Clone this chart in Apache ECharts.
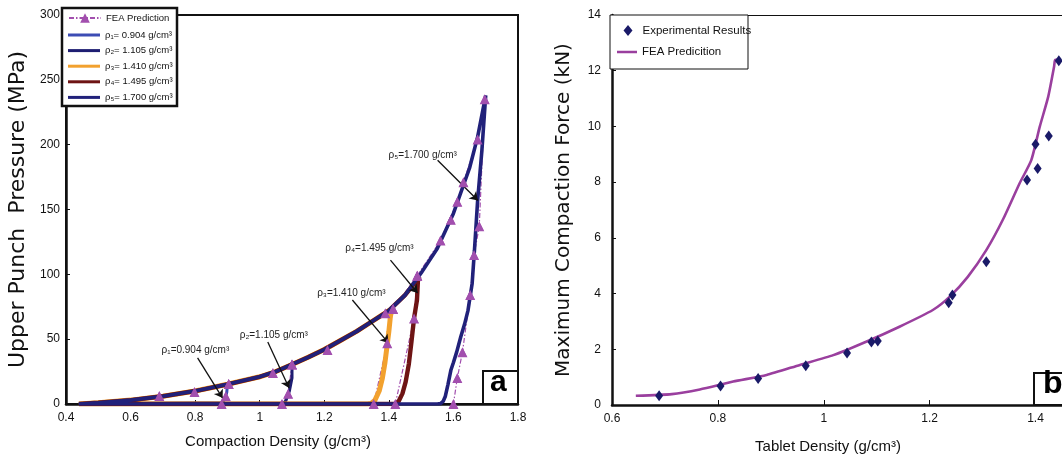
<!DOCTYPE html>
<html>
<head>
<meta charset="utf-8">
<script src="https://cdn.jsdelivr.net/npm/echarts@6/dist/echarts.min.js"></script>
<style>
  html, body { margin: 0; padding: 0; background: #fff; }
  #chart { width: 1062px; height: 461px; }
</style>
</head>
<body>
<div id="chart"></div>
<script>
// ---------- Panel a: upper punch pressure vs compaction density ----------
// Shared loading envelope (g/cm3, MPa)
const loadDensity  = [0.44, 0.5, 0.6, 0.7, 0.8, 0.9, 1.0, 1.05, 1.1, 1.15, 1.2, 1.25, 1.3, 1.35, 1.4, 1.45, 1.5, 1.55, 1.6, 1.65, 1.675, 1.7];
const loadPressure = [0, 1, 3, 6, 10, 15.2, 21, 25, 30.5, 36, 42, 49, 56, 64, 72, 84, 101, 120, 147, 182, 206, 238];

// Unloading branches, [density, pressure], starting at the peak of each case
const unloadRho1 = [[0.904, 15.5], [0.898, 9], [0.892, 4], [0.885, 1], [0.88, 0]];
const unloadRho2 = [[1.105, 31], [1.1, 20], [1.092, 10], [1.082, 3], [1.072, 0]];
const unloadRho3 = [[1.41, 73], [1.405, 68], [1.4, 56], [1.395, 46], [1.388, 32], [1.38, 20], [1.37, 10], [1.357, 3], [1.345, 0.5], [1.335, 0]];
const unloadRho4 = [[1.495, 98], [1.49, 95], [1.487, 80], [1.478, 66], [1.47, 48], [1.462, 31], [1.452, 17], [1.442, 8], [1.43, 2], [1.42, 0]];
const unloadRho5 = [[1.70, 238], [1.688, 195], [1.675, 157], [1.665, 118], [1.658, 93], [1.645, 72], [1.635, 62], [1.623, 52], [1.61, 40], [1.6, 32], [1.592, 26], [1.583, 15], [1.575, 6], [1.568, 2], [1.56, 0.3], [1.55, 0]];

// FEA prediction points (triangles)
const feaLoading = [[0.689, 6.2], [0.798, 9.3], [0.904, 15.4], [1.041, 24], [1.1, 30.5], [1.21, 41.6], [1.389, 70], [1.413, 73.3], [1.488, 99], [1.56, 126], [1.592, 142], [1.612, 156], [1.631, 171], [1.675, 204], [1.697, 235]];
const feaUnload1 = [[0.904, 15.4], [0.895, 6], [0.882, 0]];
const feaUnload2 = [[1.1, 30.5], [1.088, 8], [1.069, 0]];
const feaUnload3 = [[1.413, 73.3], [1.395, 46.8], [1.353, 0]];
const feaUnload4 = [[1.488, 99], [1.478, 66], [1.42, 0]];
const feaUnload5 = [[1.697, 235], [1.68, 137], [1.664, 115], [1.652, 84], [1.628, 40], [1.612, 20], [1.6, 0]];

const caseNames  = ['ρ₁= 0.904 g/cm³', 'ρ₂= 1.105 g/cm³', 'ρ₃= 1.410 g/cm³', 'ρ₄= 1.495 g/cm³', 'ρ₅= 1.700 g/cm³'];
const caseColors = ['#3c4cb4', '#1e1e72', '#f2a12e', '#6e1414', '#21217a'];
const caseWidths = [3, 3, 5, 4.4, 3.6];
const unloads    = [unloadRho1, unloadRho2, unloadRho3, unloadRho4, unloadRho5];

// Annotation texts and arrows (data coordinates)
const noteTexts  = ['ρ₁=0.904 g/cm³', 'ρ₂=1.105 g/cm³', 'ρ₃=1.410 g/cm³', 'ρ₄=1.495 g/cm³', 'ρ₅=1.700 g/cm³'];
const noteAnchor = [[0.696, 41.6], [0.938, 53], [1.178, 85.6], [1.265, 120], [1.399, 192]];
const arrowFrom  = [[0.8076, 35.5], [1.025, 47.8], [1.287, 80.2], [1.405, 111], [1.551, 188]];
const arrowTo    = [[0.885, 4.6], [1.091, 12.3], [1.399, 47], [1.489, 85.6], [1.676, 157]];

// ---------- Panel b: maximum compaction force vs tablet density ----------
const expDensity = [0.689, 0.805, 0.876, 0.966, 1.044, 1.09, 1.102, 1.236, 1.243, 1.307, 1.384, 1.404, 1.4, 1.425, 1.444];
const expForce   = [0.33, 0.68, 0.95, 1.41, 1.87, 2.26, 2.30, 3.67, 3.95, 5.14, 8.08, 8.49, 9.36, 9.66, 12.36];
const feaDensity = [0.645, 0.713, 0.766, 0.829, 0.892, 0.955, 1.018, 1.08, 1.143, 1.206, 1.238, 1.272, 1.307, 1.338, 1.37, 1.392, 1.408, 1.424, 1.435, 1.437, 1.445];
const feaForce   = [0.33, 0.39, 0.56, 0.84, 1.08, 1.44, 1.79, 2.27, 2.81, 3.41, 3.89, 4.6, 5.56, 6.64, 7.96, 8.79, 9.99, 11.07, 12.14, 12.38, 12.4];

const NARROW = "'Liberation Sans Narrow', 'Liberation Sans', Arial, sans-serif";
const WIDE = "'DejaVu Sans', 'Liberation Sans', Arial, sans-serif";
const FEA_COLOR = '#a24fae';

function caseCurve(i) {
  const peak = unloads[i][0][0];
  const pts = [];
  loadDensity.forEach((d, k) => { if (d < peak - 1e-9) pts.push([d, loadPressure[k]]); });
  unloads[i].forEach(p => pts.push(p));
  pts.push([loadDensity[0], 0]);
  return pts;
}

const series = [];
caseNames.forEach((name, i) => {
  series.push({
    name, type: 'line', xAxisIndex: 0, yAxisIndex: 0,
    data: caseCurve(i), showSymbol: false, symbol: 'none', z: 3,
    lineStyle: { color: caseColors[i], width: caseWidths[i] },
    itemStyle: { color: caseColors[i] }
  });
});

// FEA dashed paths (under the solid curves), then triangles on top
const feaPaths = [feaLoading.concat(feaUnload5.slice(1)), feaUnload1, feaUnload2, feaUnload3, feaUnload4];
feaPaths.forEach((path) => {
  series.push({
    name: 'FEA Prediction', type: 'line', xAxisIndex: 0, yAxisIndex: 0,
    data: path, symbol: 'triangle', symbolSize: 9, showSymbol: true, z: 2,
    lineStyle: { color: FEA_COLOR, width: 1.2, type: [5, 2, 1.5, 2] },
    itemStyle: { color: FEA_COLOR }
  });
});
series.push({
  name: 'FEA Prediction', type: 'scatter', xAxisIndex: 0, yAxisIndex: 0,
  data: feaPaths.flat(), symbol: 'triangle', symbolSize: 10, z: 5,
  itemStyle: { color: FEA_COLOR, opacity: 1 }
});

// annotations
series.push({
  type: 'line', xAxisIndex: 0, yAxisIndex: 0, data: [], z: 6, silent: true,
  markLine: {
    silent: true, symbol: ['none', 'arrow'], symbolSize: 8, animation: false,
    lineStyle: { color: '#111', width: 1.3, type: 'solid' },
    label: { show: false },
    data: arrowFrom.map((f, i) => [{ coord: f }, { coord: arrowTo[i] }])
  },
  markPoint: {
    silent: true, symbol: 'circle', symbolSize: 0, animation: false,
    label: { show: true, position: 'right', distance: 0, color: '#222', fontSize: 10, fontFamily: NARROW, formatter: p => p.name },
    data: noteTexts.map((t, i) => ({ name: t, coord: noteAnchor[i] }))
  }
});

// panel b series
series.push({
  name: 'Experimental Results', type: 'scatter', xAxisIndex: 1, yAxisIndex: 1,
  data: expDensity.map((d, i) => [d, expForce[i]]),
  symbol: 'diamond', symbolSize: [8, 11], z: 4,
  itemStyle: { color: '#1a1a68', opacity: 1 }
});
series.push({
  name: 'FEA Predicition', type: 'line', xAxisIndex: 1, yAxisIndex: 1,
  data: feaDensity.map((d, i) => [d, feaForce[i]]),
  showSymbol: false, symbol: 'none', smooth: 0.2, z: 3,
  lineStyle: { color: '#9a3f9e', width: 2.6 },
  itemStyle: { color: '#9a3f9e' }
});

const axisLabelStyle = { color: '#111', fontSize: 12, fontFamily: NARROW };
const legendBase = { orient: 'vertical', selectedMode: false, padding: 0, backgroundColor: 'transparent', z: 8 };

const option = {
  animation: false,
  backgroundColor: '#fff',
  grid: [
    { left: 66, right: 544, top: 15, bottom: 57, show: true, borderColor: '#111', borderWidth: 2, backgroundColor: 'transparent' },
    { left: 612, right: 0, top: 15, bottom: 56, show: false }
  ],
  xAxis: [
    {
      type: 'value', gridIndex: 0, min: 0.4, max: 1.8, interval: 0.2,
      name: 'Compaction Density (g/cm³)', nameLocation: 'middle', nameGap: 30,
      nameTextStyle: { color: '#111', fontSize: 15, fontFamily: NARROW, padding: [0, 28, 0, 0] },
      axisLine: { lineStyle: { color: '#111', width: 2.5 } },
      axisTick: { inside: true, length: 4, lineStyle: { color: '#111' } },
      axisLabel: Object.assign({ margin: 8 }, axisLabelStyle),
      splitLine: { show: false }
    },
    {
      type: 'value', gridIndex: 1, min: 0.6, max: 1.45, interval: 0.2,
      name: 'Tablet Density (g/cm³)', nameLocation: 'middle', nameGap: 34,
      nameTextStyle: { color: '#111', fontSize: 15, fontFamily: NARROW, padding: [0, 18, 0, 0] },
      axisLine: { lineStyle: { color: '#111', width: 2.5 } },
      axisTick: { inside: true, length: 5, lineStyle: { color: '#111' } },
      axisLabel: Object.assign({ margin: 8, showMaxLabel: false }, axisLabelStyle),
      splitLine: { show: false }
    }
  ],
  yAxis: [
    {
      type: 'value', gridIndex: 0, min: 0, max: 300, interval: 50,
      name: 'Upper Punch  Pressure (MPa)', nameLocation: 'middle', nameGap: 37,
      nameTextStyle: { color: '#111', fontSize: 22, fontFamily: WIDE },
      axisLine: { lineStyle: { color: '#111', width: 2.5 } },
      axisTick: { inside: true, length: 4, lineStyle: { color: '#111' } },
      axisLabel: Object.assign({ margin: 6 }, axisLabelStyle),
      splitLine: { show: false }
    },
    {
      type: 'value', gridIndex: 1, min: 0, max: 14, interval: 2,
      name: 'Maximum Compaction Force (kN)', nameLocation: 'middle', nameGap: 38,
      nameTextStyle: { color: '#111', fontSize: 20, fontFamily: WIDE },
      axisLine: { lineStyle: { color: '#111', width: 2.5 } },
      axisTick: { inside: true, length: 4, lineStyle: { color: '#111' } },
      axisLabel: Object.assign({ margin: 11 }, axisLabelStyle),
      splitLine: { show: false }
    }
  ],
  legend: [
    Object.assign({}, legendBase, {
      data: ['FEA Prediction'], left: 68, top: 13,
      itemWidth: 32, itemHeight: 12,
      textStyle: { color: '#111', fontSize: 9.5, fontFamily: NARROW }
    }),
    Object.assign({}, legendBase, {
      data: caseNames.map(n => ({ name: n, icon: 'rect' })), left: 68, top: 29,
      itemWidth: 32, itemHeight: 3, itemGap: 3.6,
      textStyle: { color: '#111', fontSize: 9.5, fontFamily: NARROW, lineHeight: 12 }
    }),
    Object.assign({}, legendBase, {
      data: [{ name: 'Experimental Results', icon: 'diamond' }], left: 623.5, top: 24.5,
      itemWidth: 9, itemHeight: 11,
      textStyle: { color: '#111', fontSize: 11.5, fontFamily: NARROW, padding: [0, 0, 0, 5] }
    }),
    Object.assign({}, legendBase, {
      data: [{ name: 'FEA Predicition', icon: 'rect' }], left: 617, top: 45.5,
      itemWidth: 20, itemHeight: 2.5,
      textStyle: { color: '#111', fontSize: 11.5, fontFamily: NARROW, lineHeight: 13 }
    })
  ],
  graphic: [
    // legend frames (above axes, below legend items)
    { type: 'rect', z: 7, shape: { x: 62, y: 8, width: 115, height: 98 }, style: { fill: '#fff', stroke: '#111', lineWidth: 2.5 } },
    { type: 'rect', z: 7, shape: { x: 610, y: 15, width: 138, height: 54 }, style: { fill: '#fff', stroke: '#111', lineWidth: 1 } },
    // top frame line of panel b
    { type: 'line', z: 1, shape: { x1: 612, y1: 15.5, x2: 1062, y2: 15.5 }, style: { stroke: '#111', lineWidth: 1 } },
    // panel letters
    { type: 'rect', z: 100, shape: { x: 483, y: 371, width: 35, height: 33 }, style: { fill: '#fff', stroke: '#111', lineWidth: 2 } },
    { type: 'text', z: 101, left: 490, top: 368, style: { text: 'a', font: "bold 30px 'Liberation Sans', Arial, sans-serif", fill: '#000' } },
    { type: 'rect', z: 100, shape: { x: 1034, y: 373, width: 40, height: 32 }, style: { fill: '#fff', stroke: '#111', lineWidth: 2 } },
    { type: 'text', z: 101, left: 1043, top: 368, style: { text: 'b', font: "bold 32px 'Liberation Sans', Arial, sans-serif", fill: '#000' } }
  ],
  series
};

const chart = echarts.init(document.getElementById('chart'), null, { renderer: 'canvas' });
chart.setOption(option);
</script>
</body>
</html>
